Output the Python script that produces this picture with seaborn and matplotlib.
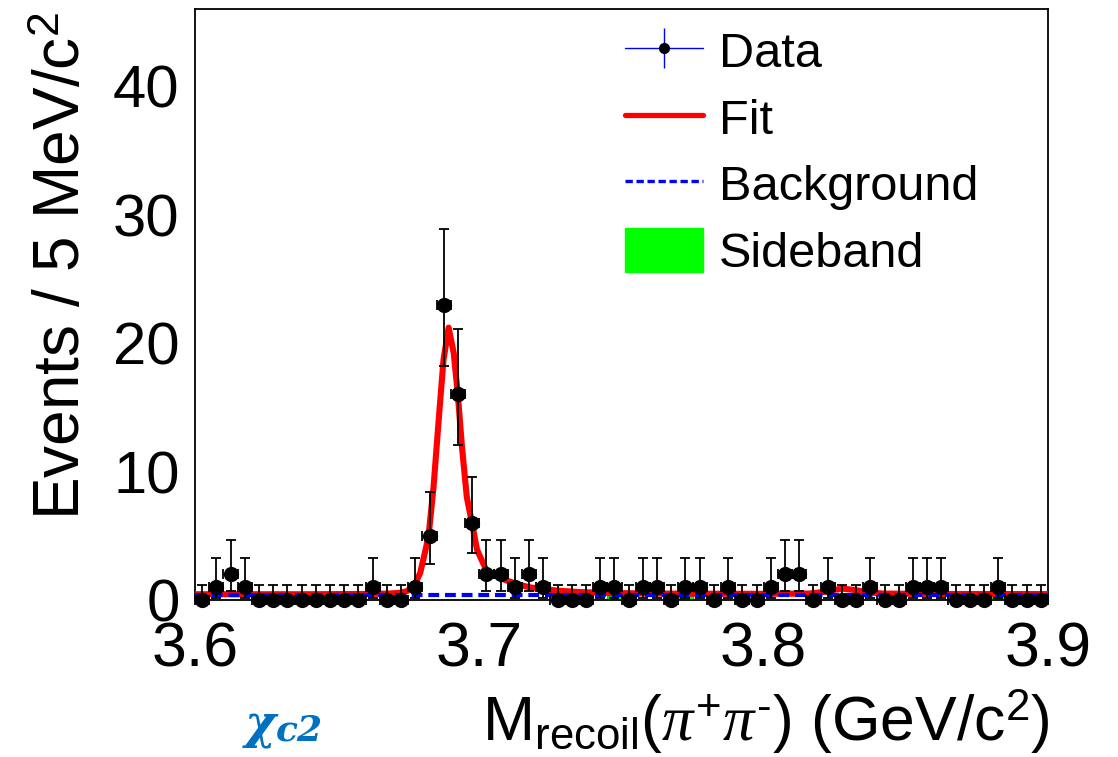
import numpy as np
import pandas as pd
import matplotlib
matplotlib.use("Agg")
import matplotlib.pyplot as plt
import seaborn as sns
from matplotlib.lines import Line2D
from matplotlib.patches import Patch
from matplotlib.legend_handler import HandlerTuple
from matplotlib.ticker import MultipleLocator

# ---------------- data ----------------
X_MIN, X_MAX = 3.6, 3.9
BIN_WIDTH = 0.005

counts = [0, 1, 2, 1, 0, 0, 0, 0, 0, 0,
          0, 0, 1, 0, 0, 1, 5, 23, 16, 6,
          2, 2, 1, 2, 1, 0, 0, 0, 1, 1,
          0, 1, 1, 0, 1, 1, 0, 1, 0, 0,
          1, 2, 2, 0, 1, 0, 0, 1, 0, 0,
          1, 1, 1, 0, 0, 0, 1, 0, 0, 0]

# asymmetric Poisson (68.3%) interval limits for the counts that occur
poisson_lo = {0: 0.0, 1: 0.173, 2: 0.708, 5: 2.840, 6: 3.620, 16: 12.05, 23: 18.24}
poisson_hi = {0: 1.148, 1: 3.300, 2: 4.638, 5: 8.382, 6: 9.584, 16: 21.09, 23: 28.86}

sideband = [0, 0, 0, 0, 0, 0, 0, 0, 0, 0,
            0.3, 0, 0, 0, 0, 0, 0, 0, 0, 0,
            0, 0, 0, 0, 0, 0.3, 0.3, 0, 0, 0.3,
            0, 0, 0, 0, 0.3, 0, 0, 0, 0, 0,
            0, 0, 0, 0, 0, 0, 0.3, 0, 0, 0,
            0, 0, 0, 0.3, 0.3, 0, 0.3, 0, 0, 0]

fit_x = [3.600, 3.640, 3.660, 3.668, 3.672, 3.6745, 3.6772, 3.6792, 3.6821,
         3.6839, 3.6857, 3.6874, 3.6892, 3.6910, 3.6924, 3.6939, 3.6956,
         3.6974, 3.6992, 3.7025, 3.7074, 3.7124, 3.7174, 3.722, 3.728, 3.735,
         3.745, 3.760, 3.800, 3.816, 3.821, 3.825, 3.828, 3.832, 3.836,
         3.842, 3.860, 3.900]
fit_y = [0.45, 0.45, 0.47, 0.50, 0.56, 0.68, 1.17, 2.1, 4.9,
         8.8, 14.0, 18.7, 21.2, 19.2, 16.1, 11.9, 8.0,
         6.0, 3.9, 2.3, 1.7, 1.3, 1.0, 0.85, 0.72, 0.62,
         0.55, 0.50, 0.48, 0.50, 0.62, 0.80, 0.88, 0.78, 0.62,
         0.50, 0.47, 0.46]

bkg_x = [3.600, 3.900]
bkg_y = [0.40, 0.40]

# ---------------- style ----------------
sns.set_theme(style="white")
plt.rcParams['font.family'] = ['Liberation Sans', 'DejaVu Sans']
plt.rcParams['text.color'] = 'black'
plt.rcParams['mathtext.fontset'] = 'custom'
plt.rcParams['mathtext.rm'] = 'Liberation Sans'
plt.rcParams['mathtext.it'] = 'Liberation Serif:italic'
plt.rcParams['mathtext.bf'] = 'Liberation Sans:bold'

W, H = 1118, 757
fig = plt.figure(figsize=(W / 100, H / 100), dpi=100)
fig.patch.set_facecolor('white')
ax = fig.add_axes([195 / W, 1 - 600 / H, (1048 - 195) / W, (600 - 9) / H])

n_bins = len(counts)
centers = X_MIN + BIN_WIDTH * (np.arange(n_bins) + 0.5)
cnt = np.array(counts)
err_lo = np.array([c - poisson_lo[c] for c in counts])
err_hi = np.array([poisson_hi[c] - c for c in counts])

# sideband histogram
sb_df = pd.DataFrame({'x': centers, 'w': sideband})
sns.histplot(data=sb_df, x='x', weights='w', binwidth=BIN_WIDTH,
             binrange=(X_MIN, X_MAX), stat='count',
             color='#00ff00', alpha=1.0, edgecolor='#00cc00', linewidth=1,
             ax=ax, zorder=1)

# fit + background
sns.lineplot(x=fit_x, y=fit_y, color='red', linewidth=4.4, ax=ax,
             estimator=None, sort=False, zorder=3)
sns.lineplot(x=bkg_x, y=bkg_y, color='blue', linewidth=3.0, ax=ax,
             estimator=None, sort=False, zorder=4)
ax.lines[-1].set_dashes((2.6, 1.4))

# data
ax.errorbar(centers, cnt, yerr=[err_lo, err_hi], xerr=BIN_WIDTH / 2,
            fmt='none', ecolor='black', elinewidth=1.3, capsize=3.5,
            capthick=1.3, zorder=5, clip_on=False)
sns.scatterplot(x=centers, y=cnt, color='black', s=120, edgecolor='black',
                linewidth=0, ax=ax, zorder=6, clip_on=False)

# axes
ax.set_xlim(X_MIN, X_MAX)
ax.set_ylim(0, 46.0)
ax.xaxis.set_major_locator(MultipleLocator(0.1))
ax.xaxis.set_minor_locator(MultipleLocator(0.02))
ax.yaxis.set_major_locator(MultipleLocator(10))
ax.yaxis.set_minor_locator(MultipleLocator(2))
ax.tick_params(axis='both', which='both', direction='in', top=False,
               right=False, colors='black', width=1.2)
ax.tick_params(axis='x', which='major', length=13, pad=15, labelsize=45)
ax.tick_params(axis='x', which='minor', length=7)
ax.tick_params(axis='y', which='major', length=17, pad=11, labelsize=43)
ax.tick_params(axis='y', which='minor', length=9)
for sp in ax.spines.values():
    sp.set_color('black')
    sp.set_linewidth(1.3)
ax.set_xlabel('')
ax.set_ylabel('')

# axis titles
fig.text(63 / W, 1 - 12 / H, 'Events / 5 MeV/c$^{2}$', rotation=90,
         ha='center', va='top', fontsize=46, color='black')
fig.text(1050 / W, 1 - 741 / H,
         r'M$_{\mathrm{recoil}}$($\pi^{+}\pi^{\text{-}}$) (GeV/c$^{2}$)',
         ha='right', va='baseline', fontsize=45, color='black')

# chi_c2 tag
chi = fig.text(245 / W, 1 - 738 / H, 'χ', color='#0070C0', fontsize=34,
               fontweight='bold', fontstyle='italic', family='DejaVu Serif',
               va='baseline', ha='left')
ax.annotate('c2', xy=(1.0, 0.0), xycoords=chi, xytext=(0, 1),
            textcoords='offset points', color='#0070C0', fontsize=26,
            fontweight='bold', fontstyle='italic', family='DejaVu Serif',
            va='bottom', ha='left', annotation_clip=False)

# legend
h_data = (Line2D([], [], color='blue', lw=1),
          Line2D([], [], ls='None', marker='|', markersize=29, mew=1, color='blue'),
          Line2D([], [], ls='None', marker='o', markersize=7, color='black'))
h_fit = Line2D([], [], color='red', lw=3.8)
h_bkg = Line2D([], [], color='blue', lw=2.4, dashes=(2.2, 1.1))
h_sb = Patch(facecolor='#00ff00', edgecolor='#00ff00')
leg = ax.legend([h_data, h_fit, h_bkg, h_sb], ['Data', 'Fit', 'Background', 'Sideband'],
                handler_map={tuple: HandlerTuple(ndivide=1, pad=0)},
                loc='upper left', bbox_to_anchor=(625 / W, 1 - 29 / H),
                bbox_transform=fig.transFigure, frameon=False, fontsize=35,
                handlelength=1.6, handleheight=1.0, handletextpad=0.33,
                labelspacing=0.37, borderpad=0, borderaxespad=0)
for t in leg.get_texts():
    t.set_color('black')

fig.savefig('out.png', dpi=100, facecolor='white')
